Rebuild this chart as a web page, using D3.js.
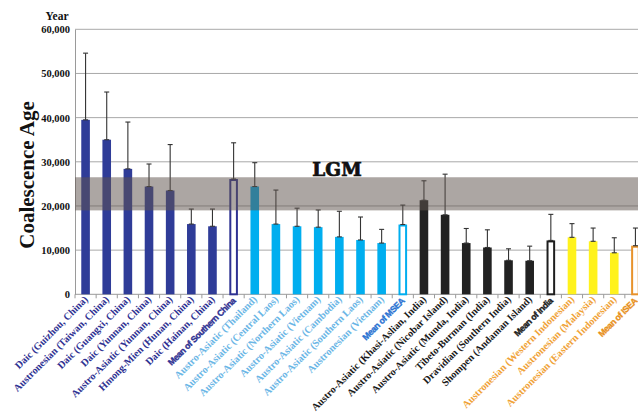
<!DOCTYPE html>
<html>
<head>
<meta charset="utf-8">
<script src="https://cdn.jsdelivr.net/npm/d3@7"></script>
<style>
  html, body { margin: 0; padding: 0; background: #fff; overflow: hidden; }
  svg { display: block; }
</style>
</head>
<body>
<svg id="chart" width="638" height="414"></svg>
<script>
// Population labels along the x axis
const categories = [
  "Daic (Guizhou, China)", "Austronesian (Taiwan, China)", "Daic (Guangxi, China)",
  "Daic (Yunnan, China)", "Austro-Asiatic (Yunnan, China)", "Hmong-Mien (Hunan, China)",
  "Daic (Hainan, China)", "Mean of Southern China",
  "Austro-Asiatic (Thailand)", "Austro-Asiatic (Central Laos)", "Austro-Asiatic (Northern Laos)",
  "Austro-Asiatic (Vietnam)", "Austro-Asiatic (Cambodia)", "Austro-Asiatic (Southern Laos)",
  "Austronesian (Vietnam)", "Mean of MSEA",
  "Austro-Asiatic (Khasi-Aslian, India)", "Austro-Asiatic (Nicobar Island)",
  "Austro-Asiatic (Munda, India)", "Tibeto-Burman (India)", "Dravidian (Southern India)",
  "Shompen (Andaman Island)", "Mean of India",
  "Austronesian (Western Indonesian)", "Austronesian (Malaysia)",
  "Austronesian (Eastern Indonesian)", "Mean of ISEA"
];
// Region each population belongs to
const regions = [
  "sc","sc","sc","sc","sc","sc","sc","sc",
  "msea","msea","msea","msea","msea","msea","msea","msea",
  "india","india","india","india","india","india","india",
  "isea","isea","isea","isea"
];
// Regional mean columns (drawn hollow)
const isMean = categories.map(c => c.startsWith("Mean of"));
// Coalescence age (years)
const ages = [
  39500, 35000, 28400, 24400, 23500, 15900, 15400, 26100,
  24400, 15900, 15400, 15200, 13000, 12300, 11600, 15800,
  21300, 18000, 11600, 10600, 7700, 7600, 12200,
  12900, 12000, 9400, 11000
];
// Upper end of each error bar (years)
const upperAges = [
  54600, 45800, 39000, 29500, 33900, 19300, 19300, 34300,
  29800, 23600, 19500, 19100, 18800, 17500, 14700, 20200,
  25700, 27200, 14900, 14600, 10300, 10900, 18100,
  16000, 15000, 12800, 15000
];
// Y axis ticks
const yTicks = [0, 10000, 20000, 30000, 40000, 50000, 60000];
// Last Glacial Maximum window (years)
const lgm = [19000, 26500];

const barColor = { sc: "#2f3c98", msea: "#00aeef", india: "#222222", isea: "#fff21c" };
const meanStroke = { sc: "#2e3192", msea: "#00aeef", india: "#1e1e1e", isea: "#e8922a" };
const labelColor = { sc: "#2e3192", msea: "#6ab6e6", india: "#1a1a1a", isea: "#f0a236" };
const meanLabelColor = { sc: "#2e3192", msea: "#2a72d2", india: "#1a1a1a", isea: "#e8901a" };

const svg = d3.select("#chart");
const plotLeft = 75, plotRight = 646, plotTop = 29.3, plotBottom = 294.3;

const x = d3.scaleBand().domain(categories).range([plotLeft, plotRight]).paddingInner(0).paddingOuter(0);
const y = d3.scaleLinear().domain([0, 60000]).range([plotBottom, plotTop]);
const barW = 8.6;

// Horizontal gridlines
svg.append("g")
  .selectAll("line")
  .data(yTicks.filter(t => t > 0))
  .join("line")
  .attr("x1", plotLeft).attr("x2", 638)
  .attr("y1", d => y(d)).attr("y2", d => y(d))
  .attr("stroke", "#a9a9a9").attr("stroke-width", 1);

// Y axis
const yAxis = svg.append("g")
  .attr("transform", `translate(${plotLeft},0)`)
  .call(d3.axisLeft(y).tickValues(yTicks).tickFormat(d3.format(",")).tickSize(0).tickPadding(5));
yAxis.select(".domain").attr("stroke", "#9a9a9a");
yAxis.selectAll("text")
  .attr("font-family", "Liberation Serif, Times New Roman, serif")
  .attr("font-weight", "bold")
  .attr("font-size", 10.5)
  .attr("fill", "#111");

// X axis with ticks at category boundaries
const xAxisG = svg.append("g").attr("transform", `translate(0,${plotBottom})`);
xAxisG.append("line").attr("x1", plotLeft).attr("x2", 638).attr("y1", 0).attr("y2", 0)
  .attr("stroke", "#9a9a9a");
xAxisG.selectAll("line.tick")
  .data(categories)
  .join("line")
  .attr("class", "tick")
  .attr("x1", d => x(d)).attr("x2", d => x(d))
  .attr("y1", 0).attr("y2", 4)
  .attr("stroke", "#9a9a9a");

// Bars
const bars = svg.append("g");
categories.forEach((c, i) => {
  const cx = x(c) + x.bandwidth() / 2;
  if (isMean[i]) {
    bars.append("rect")
      .attr("x", cx - barW / 2 + 1).attr("y", y(ages[i]) + 1)
      .attr("width", barW - 2).attr("height", y(0) - y(ages[i]) - 1)
      .attr("fill", "#fff").attr("stroke", meanStroke[regions[i]]).attr("stroke-width", 2);
  } else {
    bars.append("rect")
      .attr("x", cx - barW / 2).attr("y", y(ages[i]))
      .attr("width", barW).attr("height", y(0) - y(ages[i]))
      .attr("fill", barColor[regions[i]]);
  }
});

// Error bars (upper whisker)
const err = svg.append("g").attr("stroke", "#333").attr("stroke-width", 1.1);
categories.forEach((c, i) => {
  const cx = x(c) + x.bandwidth() / 2;
  err.append("line").attr("x1", cx).attr("x2", cx)
    .attr("y1", y(ages[i])).attr("y2", y(upperAges[i]));
  err.append("line").attr("x1", cx - 2.5).attr("x2", cx + 2.5)
    .attr("y1", y(upperAges[i])).attr("y2", y(upperAges[i]));
  err.append("line").attr("x1", cx - 2.5).attr("x2", cx + 2.5)
    .attr("y1", y(ages[i])).attr("y2", y(ages[i]));
});

// LGM band laid over the bars
svg.append("rect")
  .attr("x", plotLeft).attr("width", 638 - plotLeft)
  .attr("y", y(lgm[1])).attr("height", y(lgm[0]) - y(lgm[1]))
  .attr("fill", "#60544e").attr("fill-opacity", 0.52);

svg.append("text")
  .attr("x", 337).attr("y", 176)
  .attr("text-anchor", "middle")
  .attr("font-family", "DejaVu Serif, serif")
  .attr("font-weight", "bold")
  .attr("font-size", 18.5)
  .attr("fill", "#111")
  .attr("stroke", "#111")
  .attr("stroke-width", 0.7)
  .text("LGM");

// Category labels, rotated
const labels = svg.append("g");
categories.forEach((c, i) => {
  const cx = x(c) + x.bandwidth() / 2;
  const mean = isMean[i];
  const col = mean ? meanLabelColor[regions[i]] : labelColor[regions[i]];
  const ax = cx + (mean ? 2.5 : 3), ay = mean ? 301.5 : 300;
  labels.append("text")
    .attr("transform", `translate(${ax},${ay}) rotate(-45)`)
    .attr("text-anchor", "end")
    .attr("font-family", mean ? "Liberation Sans, Arial, sans-serif" : "Liberation Serif, Times New Roman, serif")
    .attr("font-weight", "bold")
    .attr("font-size", mean ? 8.8 : 10.2)
    .attr("letter-spacing", mean ? -0.45 : 0)
    .attr("fill", col)
    .attr("stroke", mean ? col : "none")
    .attr("stroke-width", mean ? 0.35 : 0)
    .text(c);
});

// Axis titles
svg.append("text")
  .attr("x", 57).attr("y", 20)
  .attr("text-anchor", "middle")
  .attr("font-family", "Liberation Serif, Times New Roman, serif")
  .attr("font-weight", "bold")
  .attr("font-size", 11.5)
  .attr("fill", "#111")
  .text("Year");

svg.append("text")
  .attr("transform", "translate(34,175) rotate(-90)")
  .attr("text-anchor", "middle")
  .attr("font-family", "Liberation Serif, Times New Roman, serif")
  .attr("font-weight", "bold")
  .attr("font-size", 21)
  .attr("fill", "#111")
  .text("Coalescence Age");
</script>
</body>
</html>
